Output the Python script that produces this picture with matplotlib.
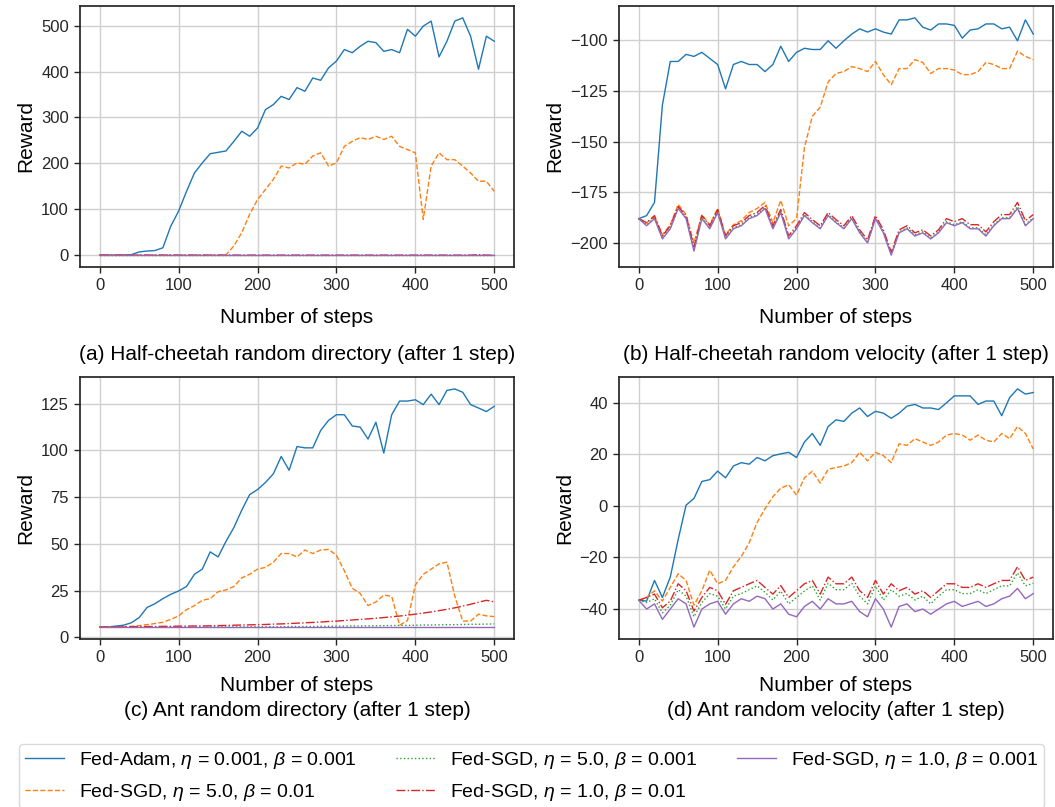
import matplotlib
matplotlib.use("Agg")
import matplotlib.pyplot as plt
from matplotlib.ticker import MultipleLocator

plt.rcParams['font.family'] = ['Liberation Sans', 'DejaVu Sans']
plt.rcParams['mathtext.fontset'] = 'custom'
plt.rcParams['mathtext.rm'] = 'Liberation Sans'
plt.rcParams['mathtext.it'] = 'Liberation Sans:italic'
plt.rcParams['axes.edgecolor'] = '#262626'
plt.rcParams['axes.linewidth'] = 1.25
plt.rcParams['xtick.color'] = '#262626'
plt.rcParams['ytick.color'] = '#262626'
plt.rcParams['xtick.major.size'] = 4.5
plt.rcParams['ytick.major.size'] = 4.5
plt.rcParams['xtick.major.width'] = 1.0
plt.rcParams['ytick.major.width'] = 1.0

# x positions: every 10 training steps
steps = list(range(0, 501, 10))

labels = [r'Fed-Adam, $\eta$ = 0.001, $\beta$ = 0.001',
          r'Fed-SGD, $\eta$ = 5.0, $\beta$ = 0.01',
          r'Fed-SGD, $\eta$ = 5.0, $\beta$ = 0.001',
          r'Fed-SGD, $\eta$ = 1.0, $\beta$ = 0.01',
          r'Fed-SGD, $\eta$ = 1.0, $\beta$ = 0.001']
colors = ['#1f77b4', '#ff7f0e', '#2ca02c', '#d62728', '#9467bd']
styles = ['-', '--', ':', '-.', '-']

# (a) Half-cheetah random directory
a_adam = [0, 0, 0, 0.5, 1, 7, 9, 10, 16, 63,
          96, 139, 179, 201, 221, 224, 227, 248, 270, 259,
          277, 317, 328, 346, 339, 365, 357, 386, 381, 408,
          423, 448, 441, 455, 466, 463, 444, 448, 441, 492,
          477, 499, 510, 432, 466, 510, 517, 477, 405, 477,
          466]
a_sgd5_01 = [0, 0, 0, 0, 0, 0, 0, 0, 0, 0,
             0, 0, 0, 0, 0, 0, 1, 20, 49, 89,
             121, 143, 165, 194, 190, 201, 198, 216, 223, 194,
             201, 237, 248, 256, 252, 259, 252, 259, 237, 230,
             223, 78, 194, 223, 208, 208, 194, 179, 161, 161,
             139]
a_sgd5_001 = [0, 0, 0, 0, 0, 0, 0, 0, 0, 0,
              0, 0, 0, 0, 0, 0, 0, 0, 0, 0,
              0, 0, 0, 0, 0, 0, 0, 0, 0, 0,
              0, 0, 0, 0, 0, 0, 0, 0, 0, 0,
              0, 0, 0, 0, 0, 0, 0, 0, 0, 0,
              0]
a_sgd1_01 = [0, 0, 0, 0, 0, 0, 0, 0, 0, 0,
             0, 0, 0, 0, 0, 0, 0, 0, 0, 0,
             0, 0, 0, 0, 0, 0, 0, 0, 0, 0,
             0, 0, 0, 0, 0, 0, 0, 0, 0, 0,
             0, 0, 0, 0, 0, 0, 0, 0, 1, 0,
             0]
a_sgd1_001 = [0, 0, 0, 0, 0, 0, 0, 0, 0, 0,
              0, 0, 0, 0, 0, 0, 0, 0, 0, 0,
              0, 0, 0, 0, 0, 0, 0, 0, 0, 0,
              0, 0, 0, 0, 0, 0, 0, 0, 0, 0,
              0, 0, 0, 0, 0, 0, 0, 0, 0, 0,
              0]

# (b) Half-cheetah random velocity
b_adam = [-188, -186.5, -180, -132, -110.5, -110.5, -107, -108, -106, -109,
          -112, -124, -112, -110.5, -112, -112, -115.5, -112, -103, -110.5,
          -106, -104, -104.6, -104.6, -100.3, -104, -100.3, -97, -94.4, -96,
          -94.4, -96, -97, -90, -90, -89, -93.6, -95, -92, -92,
          -92.7, -99, -95, -94.4, -92, -92, -94.4, -93.6, -100.3, -90,
          -97]
b_sgd5_01 = [-188, -190, -187, -196, -191, -181, -186, -200, -186, -191,
             -183, -196, -191, -189, -185, -183, -180, -190, -179, -191.5,
             -188, -153, -137.5, -133, -120.6, -116.4, -115.5, -113, -114, -115.5,
             -110.5, -117, -122, -114, -114, -109.6, -111, -116.4, -114, -114,
             -114.7, -117, -117, -115.5, -111, -112, -114, -114, -105.4, -108,
             -109.6]
b_sgd5_001 = [-188, -191, -187.5, -197.5, -192.5, -182.5, -187.5, -203, -187.5, -192.5,
              -184.5, -197.5, -192.5, -191, -187.5, -186, -182.5, -192.5, -184.5, -197.5,
              -192.5, -186, -189.5, -192.5, -186, -189.5, -192.5, -187.5, -194.5, -199.5,
              -187.5, -194.5, -205.5, -194.5, -192.5, -196, -194.5, -197.5, -194.5, -189.5,
              -191, -189.5, -192.5, -192.5, -196, -191, -187.5, -187.5, -182, -191,
              -187.5]
b_sgd1_01 = [-188, -190, -186.5, -196.5, -191.5, -182, -186.5, -202, -186.5, -191.5,
             -183.5, -196.5, -191.5, -190, -186.5, -185, -181.5, -191.5, -183.5, -196.5,
             -191.5, -185, -188.5, -191.5, -185, -188.5, -191.5, -186.5, -193.5, -198.5,
             -186.5, -193.5, -204.5, -193.5, -191.5, -195, -193.5, -196.5, -193.5, -188,
             -189.5, -188, -191, -191, -194.5, -189.5, -186, -186, -180, -189,
             -186]
b_sgd1_001 = [-188, -191.5, -188, -198, -193, -183, -188, -204, -188, -193,
              -185, -198, -193, -191.5, -188, -186.5, -183, -193, -185, -198,
              -193, -186.5, -190, -193, -186.5, -190, -193, -188, -195, -200,
              -188, -195, -206, -195, -193, -196.6, -195, -198, -195, -190,
              -191.5, -190, -193, -193, -196.6, -191.5, -188, -188, -183, -191.5,
              -188]

# (c) Ant random directory
c_adam = [5.6, 5.6, 6, 6.5, 7.8, 10.6, 16, 18, 20.7, 23,
          24.8, 27.2, 33.7, 36.5, 45.7, 43, 51.3, 58.7, 68, 76.3,
          79, 82.8, 87.4, 96.7, 89.3, 102, 101.3, 101.3, 110.6, 116,
          119, 119, 113, 112.4, 106, 115, 98.5, 119, 126.3, 126.3,
          127, 124.4, 130, 124.4, 132, 132.8, 131, 124.4, 122.6, 120.7,
          123.5]
c_sgd5_01 = [5.6, 5.6, 5.6, 5.7, 5.9, 6.3, 6.8, 7.4, 8.1, 9.6,
             11.5, 14.8, 17, 19.8, 20.7, 24.4, 25.4, 27.2, 31.8, 33.7,
             36.5, 37.4, 40.2, 44.8, 44.8, 43, 46.7, 44.8, 46.7, 47,
             43.9, 35.6, 26.3, 23.5, 17, 18.9, 22.6, 22, 6.5, 9,
             28, 33.7, 36.5, 39.3, 40.2, 22, 8.7, 8.7, 12.4, 11.5,
             11.1]
c_sgd5_001 = [5.5, 5.5, 5.5, 5.5, 5.5, 5.5, 5.5, 5.5, 5.5, 5.5,
              5.5, 5.5, 5.5, 5.5, 5.6, 5.6, 5.6, 5.6, 5.6, 5.6,
              5.7, 5.7, 5.7, 5.7, 5.8, 5.8, 5.8, 5.8, 5.9, 5.9,
              6.0, 6.0, 6.1, 6.1, 6.2, 6.2, 6.3, 6.3, 6.4, 6.4,
              6.5, 6.6, 6.6, 6.7, 6.8, 6.8, 6.9, 7.0, 7.0, 7.1,
              7.2]
c_sgd1_01 = [5.5, 5.5, 5.6, 5.6, 5.7, 5.7, 5.8, 5.8, 5.9, 5.9,
             6.0, 6.0, 6.1, 6.1, 6.2, 6.3, 6.4, 6.5, 6.6, 6.7,
             6.8, 6.9, 7.1, 7.2, 7.4, 7.6, 7.8, 8.0, 8.2, 8.5,
             8.7, 9.0, 9.3, 9.6, 9.9, 10.2, 10.6, 11.0, 11.4, 11.9,
             12.4, 13.0, 13.6, 14.3, 15.0, 15.8, 16.7, 17.7, 18.8, 19.8,
             19.0]
c_sgd1_001 = [5.5, 5.5, 5.5, 5.5, 5.5, 5.5, 5.5, 5.5, 5.5, 5.5,
              5.5, 5.5, 5.5, 5.5, 5.5, 5.5, 5.5, 5.5, 5.5, 5.5,
              5.5, 5.5, 5.5, 5.5, 5.5, 5.5, 5.5, 5.5, 5.5, 5.5,
              5.5, 5.5, 5.5, 5.5, 5.5, 5.5, 5.5, 5.5, 5.5, 5.5,
              5.5, 5.5, 5.5, 5.5, 5.5, 5.5, 5.5, 5.5, 5.5, 5.5,
              5.5]

# (d) Ant random velocity
d_adam = [-36.6, -36.9, -28.9, -35.5, -27.6, -13, 0.3, 2.9, 9.5, 10.2,
          13.5, 10.9, 15.5, 16.8, 16.2, 18.8, 17.5, 19.5, 20.2, 20.8,
          18.8, 24.8, 28.1, 23.5, 30.8, 33.4, 32.8, 36, 38, 34.7,
          36.7, 36, 34, 36, 38.7, 39.4, 38, 38, 37.4, 40,
          42.7, 42.7, 42.7, 39.4, 40.7, 40.7, 35, 42, 45.4, 43.4,
          44]
d_sgd5_01 = [-36.6, -35.5, -32.9, -36.9, -31.6, -26.3, -28.9, -38.5, -32.9, -24.9,
             -30.2, -28.9, -23.6, -19.6, -14.3, -6.4, -1.1, 3.6, 6.9, 8.2,
             4.2, 10.9, 13.5, 8.9, 14.2, 14.9, 15.5, 16.8, 20.8, 17.5,
             20.8, 19.5, 16.8, 24.1, 23.5, 26.1, 24.8, 23.5, 24.8, 27.5,
             28.1, 27.5, 25.5, 27.5, 25.5, 24.8, 28.1, 26.1, 30.8, 28.1,
             22.1]
d_sgd5_001 = [-36.6, -37.5, -36, -41.5, -38.5, -32.5, -35, -43, -37.5, -34,
              -35, -40, -35, -34, -32.5, -31, -33.5, -36.5, -33, -38,
              -35.5, -33, -31, -36.5, -30, -32.5, -32.5, -30, -35, -38,
              -31, -36.5, -32.5, -35, -34, -36.5, -35, -38, -35, -32.5,
              -32.5, -34, -34, -32.5, -34, -32.5, -31, -31, -26, -31,
              -30]
d_sgd1_01 = [-36.6, -35.5, -34.2, -39.5, -36.9, -30.2, -32.9, -40.8, -35.5, -31.6,
             -32.9, -38.2, -32.9, -31.6, -30.2, -28.9, -31.6, -34.2, -30.9, -35.5,
             -32.9, -30.2, -28.9, -34.2, -27.6, -30.2, -30.2, -27.6, -32.9, -35.5,
             -28.9, -34.2, -30.2, -32.9, -31.6, -34.2, -32.9, -35.5, -32.9, -30.2,
             -30.2, -31.6, -31.6, -30.2, -31.6, -30.2, -28.9, -28.9, -23.6, -28.9,
             -27.6]
d_sgd1_001 = [-36.6, -40, -38, -44, -40, -36, -38, -47, -40, -38,
              -37, -42, -38, -36, -37, -35, -36, -40, -38, -42,
              -43, -39, -37, -40, -36, -38, -38, -37, -41, -43,
              -36, -40, -47, -39, -38, -41, -40, -42, -40, -38,
              -37, -39, -38, -37, -39, -38, -36, -35, -32, -36,
              -34]

panels = [
    ([a_adam, a_sgd5_01, a_sgd5_001, a_sgd1_01, a_sgd1_001],
     '(a) Half-cheetah random directory (after 1 step)', None),
    ([b_adam, b_sgd5_01, b_sgd5_001, b_sgd1_01, b_sgd1_001],
     '(b) Half-cheetah random velocity (after 1 step)', 25),
    ([c_adam, c_sgd5_01, c_sgd5_001, c_sgd1_01, c_sgd1_001],
     '(c) Ant random directory (after 1 step)', 25),
    ([d_adam, d_sgd5_01, d_sgd5_001, d_sgd1_01, d_sgd1_001],
     '(d) Ant random velocity (after 1 step)', 20),
]

fig = plt.figure(figsize=(10.55, 8.07), dpi=100)
W, H = 1055, 807
# axes boxes in pixels: left, top, right, bottom
boxes = [(80, 6, 514, 267), (619, 6, 1053, 267),
         (80, 377, 514, 639), (619, 377, 1053, 639)]
caption_y = [355, 355, 710, 710]
xlabel_pad = [11, 11, 8, 8]

for i, (series, caption, ystep) in enumerate(panels):
    l, t, r, b = boxes[i]
    ax = fig.add_axes([l / W, 1 - b / H, (r - l) / W, (b - t) / H])
    for vals, lab, c, ls in zip(series, labels, colors, styles):
        ax.plot(steps, vals, color=c, linestyle=ls, linewidth=1.0, label=lab)
    ax.grid(True, color='#d0d0d0', linewidth=1.0)
    ax.set_axisbelow(True)
    ax.xaxis.set_major_locator(MultipleLocator(100))
    if ystep:
        ax.yaxis.set_major_locator(MultipleLocator(ystep))
    ax.tick_params(labelsize=12)
    ax.set_xlabel('Number of steps', fontsize=15, labelpad=xlabel_pad[i])
    ax.set_ylabel('Reward', fontsize=15)
    fig.text((l + r) / 2 / W, 1 - caption_y[i] / H, caption,
             ha='center', va='center', fontsize=15)

handles, labs = ax.get_legend_handles_labels()
fig.legend(handles, labs, loc='upper center', bbox_to_anchor=(0.504, 1 - 744 / H),
           borderaxespad=0, borderpad=0.3, labelspacing=0.55,
           ncol=3, fontsize=14, frameon=True, edgecolor='#d0d0d0')

fig.savefig('out.png', dpi=100)
